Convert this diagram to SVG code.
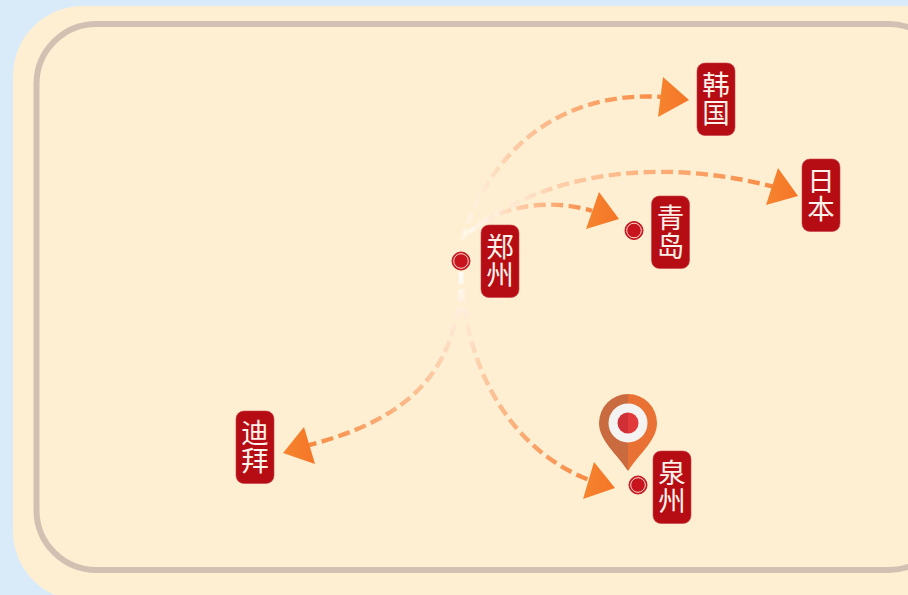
<svg xmlns="http://www.w3.org/2000/svg" width="908" height="595" viewBox="0 0 908 595">
<style>
.lbl{fill:#b60d15;stroke:#c9404a;stroke-width:.6}
.t{font-family:"Noto Sans CJK SC","Noto Sans",sans-serif;font-size:27.5px;fill:#fff2ea;text-anchor:middle;font-weight:400;writing-mode:vertical-rl;letter-spacing:.5px}
.c{fill:none;stroke-width:4.4;stroke-dasharray:12 5.500}
.a{fill:url(#ah)}
.ring{fill:#c8141c;stroke:#c8141c;stroke-width:1}
.inner{fill:none;stroke:#fbdcd0;stroke-width:1}
</style>
<defs>
<linearGradient id="ah" x1="0" y1="0" x2="1" y2="0"><stop offset="0" stop-color="#f6842f"/><stop offset="1" stop-color="#f47526"/></linearGradient>
<linearGradient id="g1" gradientUnits="userSpaceOnUse" x1="462" y1="240" x2="662" y2="97"><stop offset="0" stop-color="#fff" stop-opacity=".35"/><stop offset=".35" stop-color="#fdd0ac"/><stop offset="1" stop-color="#f78a42"/></linearGradient>
<linearGradient id="g2" gradientUnits="userSpaceOnUse" x1="465" y1="235" x2="775" y2="187"><stop offset="0" stop-color="#fff" stop-opacity=".35"/><stop offset=".3" stop-color="#fdd0ac"/><stop offset="1" stop-color="#f78a42"/></linearGradient>
<linearGradient id="g3" gradientUnits="userSpaceOnUse" x1="470" y1="232" x2="592" y2="211"><stop offset="0" stop-color="#fff" stop-opacity=".35"/><stop offset=".4" stop-color="#fdd0ac"/><stop offset="1" stop-color="#f78a42"/></linearGradient>
<linearGradient id="g4" gradientUnits="userSpaceOnUse" x1="461" y1="272" x2="305" y2="446"><stop offset="0" stop-color="#fff" stop-opacity=".6"/><stop offset=".35" stop-color="#fdd0ac"/><stop offset="1" stop-color="#f78a42"/></linearGradient>
<linearGradient id="g5" gradientUnits="userSpaceOnUse" x1="461" y1="272" x2="592" y2="481"><stop offset="0" stop-color="#fff" stop-opacity=".6"/><stop offset=".35" stop-color="#fdd0ac"/><stop offset="1" stop-color="#f78a42"/></linearGradient>
</defs>
<rect width="908" height="595" fill="#d9ebf9"/>
<rect x="13" y="6" width="1000" height="595" rx="70" fill="#ffefd2"/>
<rect x="36.500" y="24" width="912" height="546" rx="60" fill="none" stroke="#d2c0b3" stroke-width="6"/>
<g id="connectors">
<path class="c" stroke="url(#g1)" d="M462 240C490 150 560 90 664 97"/>
<polygon class="a" points="663,77 689,100 658,117"/>
<path class="c" stroke="url(#g2)" d="M465 235C540 175 650 155 775 187"/>
<polygon class="a" points="778,168 798,196 766,205"/>
<path class="c" stroke="url(#g3)" d="M470 232C500 205 550 198 592 211"/>
<polygon class="a" points="599,192 619,219 586,229"/>
<path class="c" stroke="url(#g4)" d="M461 272C460 370 410 420 305 446"/>
<polygon class="a" points="304,427 283,453 315,464"/>
<path class="c" stroke="url(#g5)" d="M461 272C465 380 520 455 592 481"/>
<polygon class="a" points="594,462 615,488 583,499"/>
</g>
<g id="pin">
<path d="M628 394A29 29 0 0 0 599 423C599 440 616 453 628 471Z" fill="#c96b3e"/>
<path d="M628 394A29 29 0 0 1 657 423C657 440 640 453 628 471Z" fill="#ea7134"/>
<circle cx="628" cy="423" r="19.500" fill="#f4f3f1"/>
<path d="M628 412.500A10.500 10.500 0 0 0 628 433.500Z" fill="#d02f36"/>
<path d="M628 412.500A10.500 10.500 0 0 1 628 433.500Z" fill="#e23a3a"/>
</g>
<g id="zhengzhou">
<circle class="ring" cx="461" cy="261" r="9"/><circle class="inner" cx="461" cy="261" r="7.300"/>
<rect class="lbl" x="481" y="225" width="38" height="72.500" rx="8"/>
<text class="t" x="500" y="261">郑州</text>
</g>
<g id="hanguo">
<rect class="lbl" x="697" y="63" width="38" height="72.500" rx="8"/>
<text class="t" x="716" y="99">韩国</text>
</g>
<g id="riben">
<rect class="lbl" x="802" y="159" width="38" height="72.500" rx="8"/>
<text class="t" x="821" y="195">日本</text>
</g>
<g id="qingdao">
<circle class="ring" cx="634" cy="230.500" r="9"/><circle class="inner" cx="634" cy="230.500" r="7.300"/>
<rect class="lbl" x="651.500" y="196" width="38" height="72.500" rx="8"/>
<text class="t" x="670.500" y="232">青岛</text>
</g>
<g id="dibai">
<rect class="lbl" x="236" y="411" width="38" height="72.500" rx="8"/>
<text class="t" x="255" y="447">迪拜</text>
</g>
<g id="quanzhou">
<circle class="ring" cx="638" cy="485" r="9"/><circle class="inner" cx="638" cy="485" r="7.300"/>
<rect class="lbl" x="653" y="451" width="38" height="72.500" rx="8"/>
<text class="t" x="672" y="487">泉州</text>
</g>
</svg>
